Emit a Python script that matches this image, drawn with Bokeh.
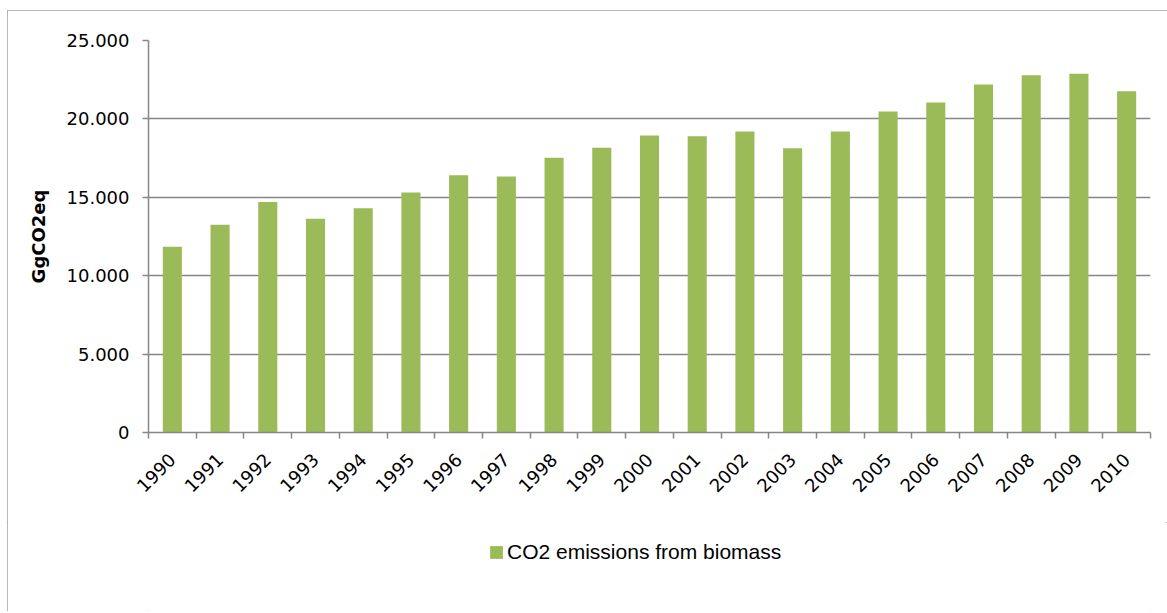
from math import pi
from bokeh.plotting import figure
from bokeh.layouts import column
from bokeh.models import (ColumnDataSource, Range1d, FixedTicker, Legend,
                          LegendItem)
from bokeh.embed import file_html
from bokeh.resources import INLINE

# ---- data ----
years = list(range(1990, 2011))
emissions = [11840, 13250, 14700, 13630, 14300, 15300, 16400, 16330, 17520,
             18160, 18940, 18900, 19190, 18130, 19190, 20470, 21050, 22190,
             22790, 22880, 21760]
y_ticks = [0, 5000, 10000, 15000, 20000, 25000]
y_tick_labels = ["0", "5.000", "10.000", "15.000", "20.000", "25.000"]
year_labels = [str(y) for y in years]
series_name = "CO2 emissions from biomass"
y_axis_title = "GgCO2eq"

BAR_COLOR = "#9BBB59"
AXIS_COLOR = "#868686"

source = ColumnDataSource(dict(year=years, value=emissions))

p = figure(
    width=1160, height=512,
    min_border_left=141, min_border_right=17,
    min_border_top=30, min_border_bottom=90,
    x_range=Range1d(years[0] - 0.5, years[-1] + 0.5),
    y_range=Range1d(0, 25000),
    output_backend="svg", toolbar_location=None,
)
p.outline_line_color = None
p.background_fill_color = "white"
p.border_fill_color = "white"

bars = p.vbar(x="year", top="value", width=0.4, bottom=0, source=source,
              fill_color=BAR_COLOR, line_color=None)

# x axis: labels at centres, tick marks at category boundaries
p.xaxis.ticker = FixedTicker(ticks=years,
                             minor_ticks=[y - 0.5 for y in years] + [years[-1] + 0.5])
p.xaxis.major_label_overrides = {y: lab for y, lab in zip(years, year_labels)}
p.xaxis.major_label_orientation = pi / 4
p.xaxis.major_tick_out = 0
p.xaxis.major_tick_in = 0
p.xaxis.minor_tick_out = 6
p.xaxis.minor_tick_in = 0
p.xaxis.minor_tick_line_color = AXIS_COLOR
p.xaxis.minor_tick_line_width = 1.5
p.xaxis.major_label_standoff = 18
p.xaxis.major_label_text_font = "DejaVu Sans"
p.xaxis.major_label_text_font_size = "18px"
p.xaxis.major_label_text_color = "black"
p.xaxis.axis_line_color = AXIS_COLOR
p.xaxis.axis_line_width = 1.5

# y axis
p.yaxis.ticker = FixedTicker(ticks=y_ticks)
p.yaxis.major_label_overrides = {t: lab for t, lab in zip(y_ticks, y_tick_labels)}
p.yaxis.minor_tick_line_color = None
p.yaxis.major_tick_out = 6
p.yaxis.major_tick_in = 0
p.yaxis.major_tick_line_color = AXIS_COLOR
p.yaxis.major_tick_line_width = 1.5
p.yaxis.major_label_standoff = 13
p.yaxis.major_label_text_font = "DejaVu Sans"
p.yaxis.major_label_text_font_size = "18px"
p.yaxis.major_label_text_color = "black"
p.yaxis.axis_line_color = AXIS_COLOR
p.yaxis.axis_line_width = 1.5
p.yaxis.axis_label = y_axis_title
p.yaxis.axis_label_text_font = "DejaVu Sans"
p.yaxis.axis_label_text_font_style = "bold"
p.yaxis.axis_label_text_font_size = "18px"
p.yaxis.axis_label_text_color = "black"
p.yaxis.axis_label_standoff = 15

p.xgrid.grid_line_color = None
p.ygrid.ticker = FixedTicker(ticks=y_ticks)
p.ygrid.grid_line_color = AXIS_COLOR
p.ygrid.grid_line_width = 1.5

# legend strip below the chart (its frame is aligned with the chart frame)
leg = figure(width=1160, height=89,
             x_range=Range1d(years[0] - 0.5, years[-1] + 0.5),
             y_range=Range1d(0, 25000),
             x_axis_type=None, y_axis_type=None,
             min_border_left=0, min_border_right=0, min_border_top=0,
             min_border_bottom=0, output_backend="svg", toolbar_location=None)
leg.outline_line_color = None
leg.grid.visible = False
leg.background_fill_color = "white"
leg.border_fill_color = "white"
# same series, hidden in this strip; only its legend key is shown
key = leg.vbar(x="year", top="value", width=0.4, source=source,
               fill_color=BAR_COLOR, line_color=None, visible=False)

legend = Legend(items=[LegendItem(label=series_name, renderers=[key])],
                location=(340, 47), orientation="horizontal",
                padding=0, margin=0, border_line_color=None,
                background_fill_alpha=0, inactive_fill_alpha=0,
                glyph_width=16, glyph_height=16, label_standoff=3,
                label_text_font="Liberation Sans", label_text_font_size="21px",
                label_text_color="black")
leg.add_layout(legend, "center")

layout = column(p, leg, spacing=0)
layout.margin = (10, 0, 0, 7)
layout.styles = {"outline": "1px solid #a0a0a0", "outline-offset": "-1px"}

open("out.html", "w").write(file_html(layout, INLINE))
